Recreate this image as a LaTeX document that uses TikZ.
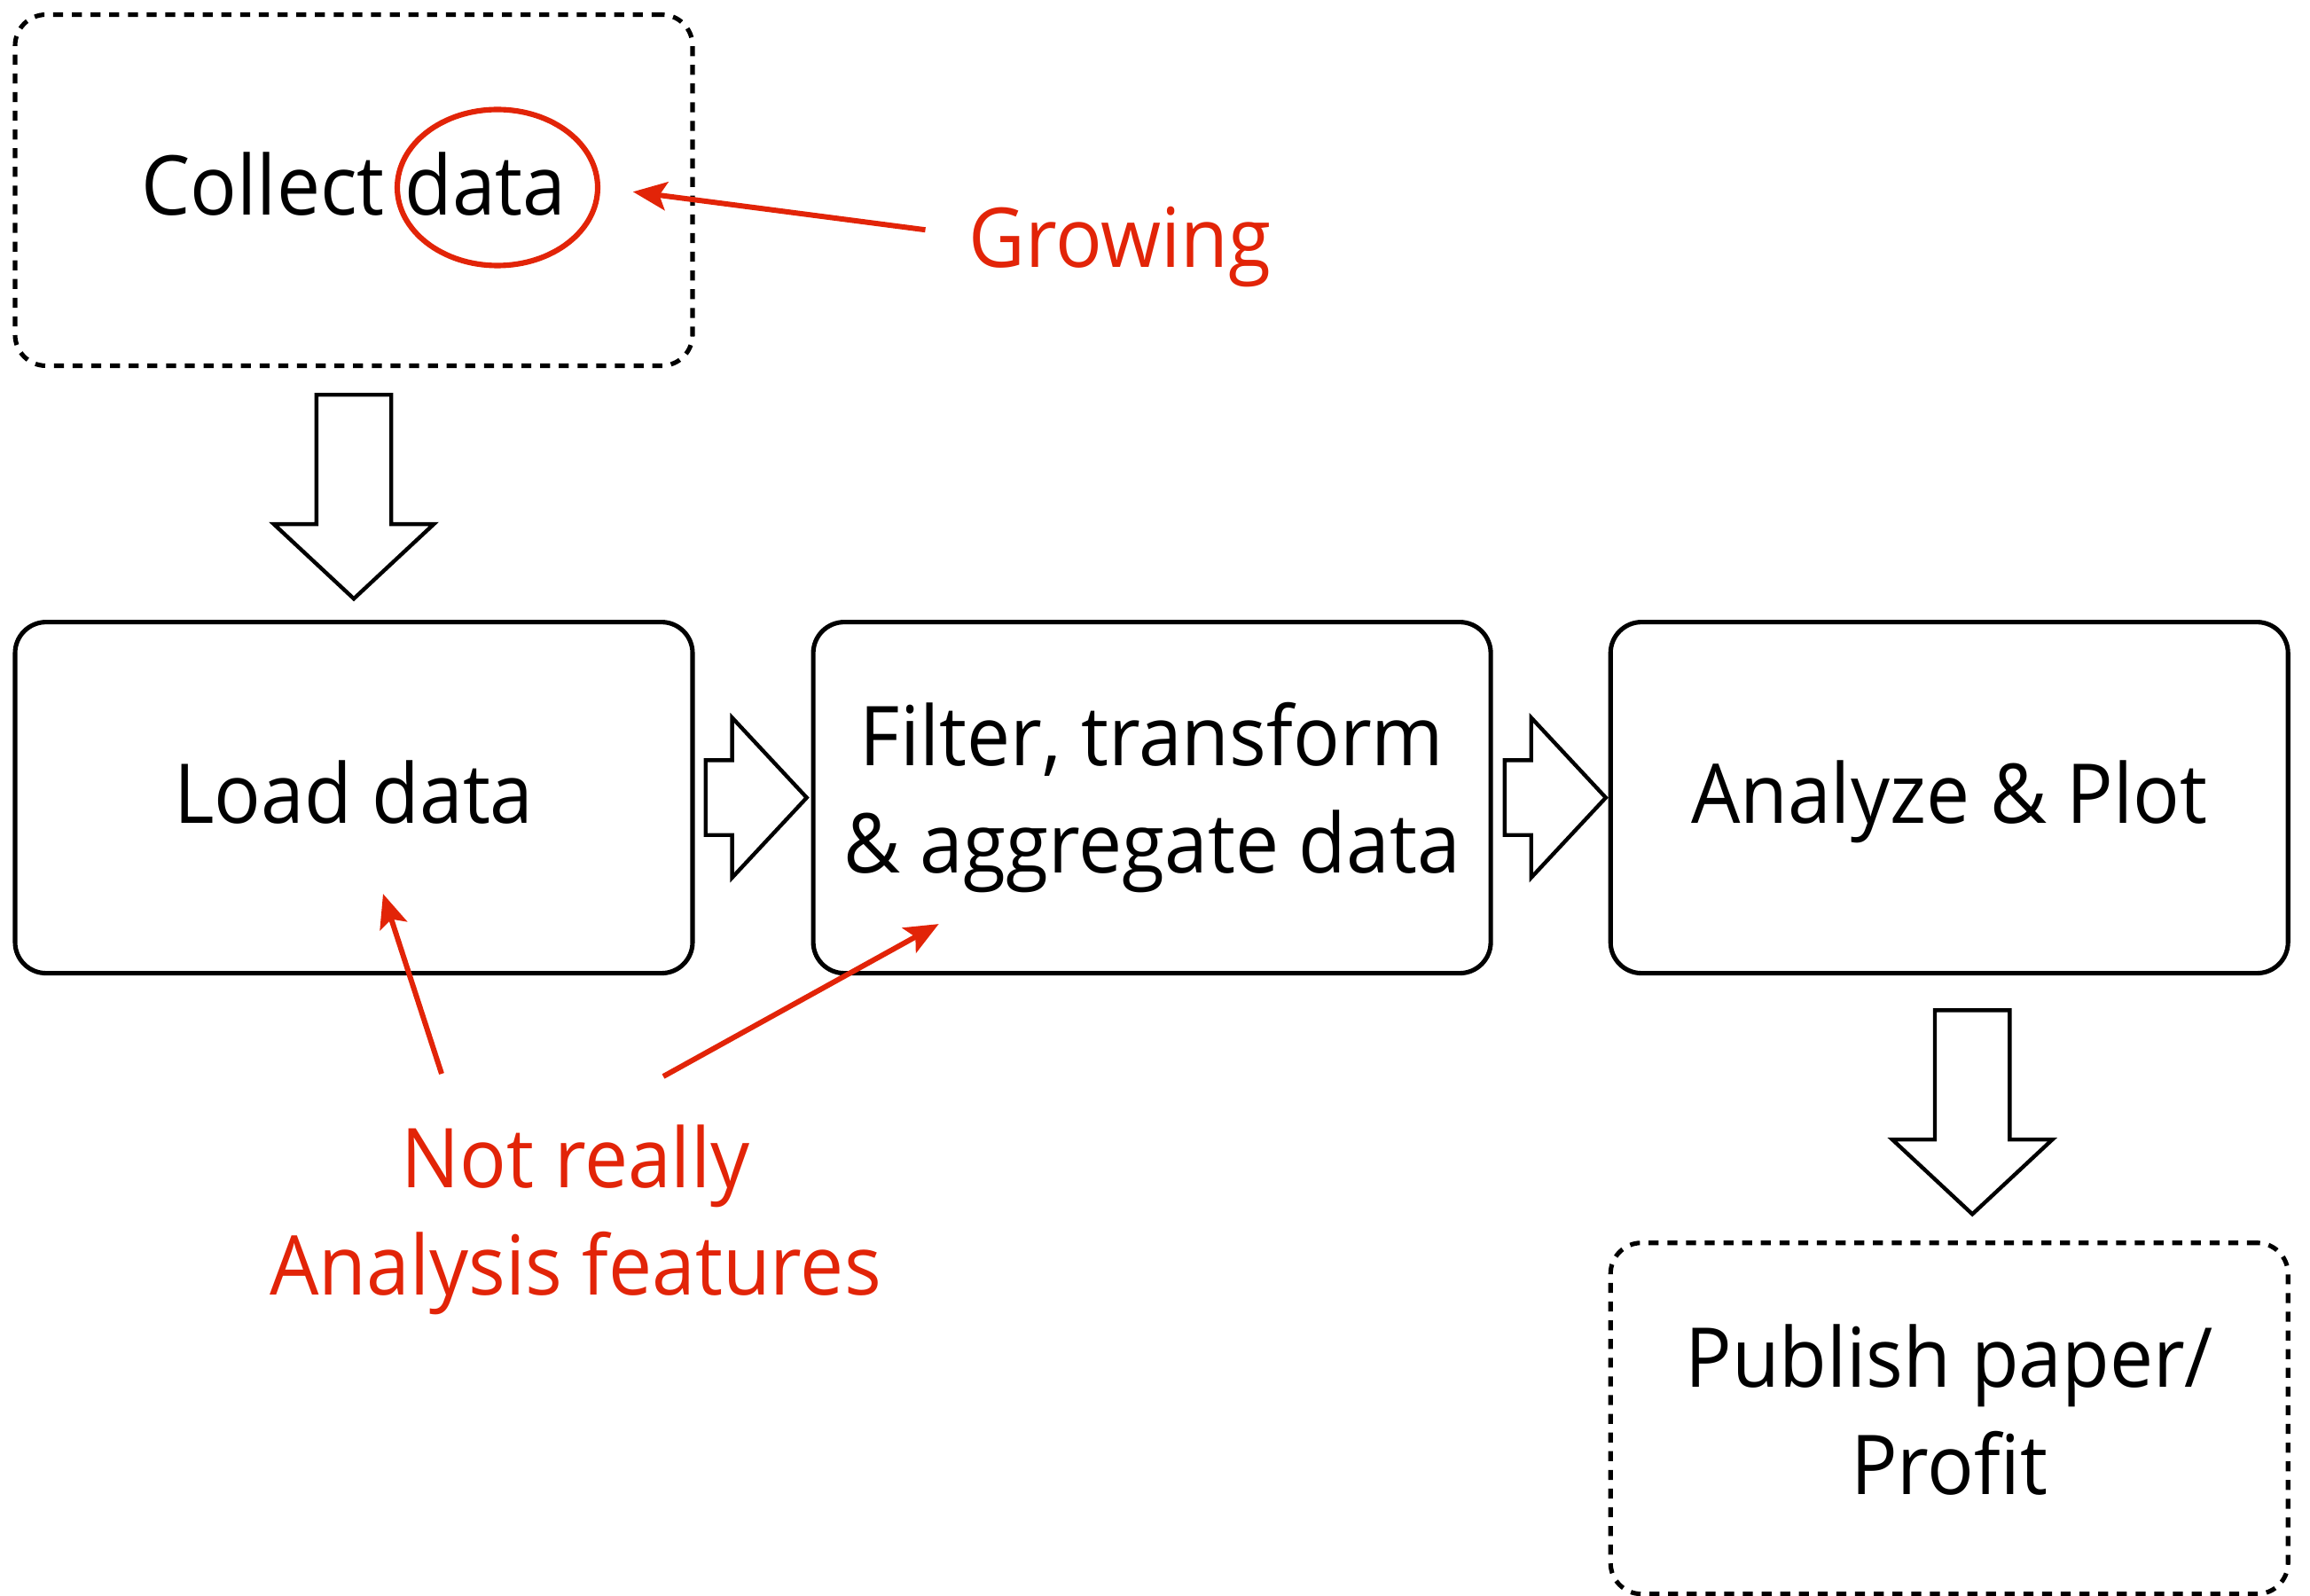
\documentclass[tikz,border=0pt]{standalone}
\usepackage{fontspec}
\setmainfont[FakeStretch=0.94]{Open Sans}
\usetikzlibrary{shapes,arrows.meta,positioning,calc}
\usepackage{xcolor}
\definecolor{notered}{RGB}{226,36,8}

\begin{document}
\begin{tikzpicture}[node distance=1.31cm, font=\fontsize{26.5}{34.5}\selectfont]
    \tikzstyle{block} = [rectangle, draw, line width=1.45pt, rounded corners=0.35cm,
               minimum width=7.64cm, minimum height=3.96cm]
    \tikzstyle{oneline} = [text height=21pt, text depth=4.8pt]
    \tikzstyle{dashblock} = [block, dash pattern=on 3.2pt off 2.8pt]
    \tikzstyle{fat} = [single arrow, draw, line width=1.25pt, inner xsep=0pt,
               inner ysep=0.4cm, minimum height=2.3cm, anchor=tail,
               single arrow head extend=0.48cm, single arrow tip angle=94]
    \tikzstyle{note} = [text=notered, align=center]
    \tikzstyle{line} = [draw, notered, line width=1.7pt,
               -{Stealth[length=3.8mm, width=3.2mm, inset=0.8mm]}]

    \useasboundingbox (0,0) rectangle (26.05,-17.99);

    % Define boxes
    \node[dashblock, oneline] (collect) at (3.99,-2.145) {Collect data};
    \node[block, oneline, below=2.84cm of collect] (load) {Load data};
    \node[block, align=center, right=of load] (filter) {Filter, transform\\\& aggregate data};
    \node[block, oneline, right=1.30cm of filter] (analyze) {Analyze \& Plot};
    \node[dashblock, align=center, below=2.99cm of analyze] (publish)
      {Publish paper/\\Profit\rule[-0.2cm]{0pt}{0.2cm}};

    % Block arrows between the steps
    \node[fat, rotate=-90] (down1) at ([yshift=-0.28cm]collect.south) {};
    \node[fat, minimum height=1.14cm] (right1) at ([xshift=0.1cm]load.east) {};
    \node[fat, minimum height=1.14cm] (right2) at ([xshift=0.11cm]filter.east) {};
    \node[fat, rotate=-90] (down2) at ([xshift=0.26cm, yshift=-0.37cm]analyze.south) {};

    % Red remarks
    \node[ellipse, draw=notered, line width=1.75pt, minimum width=2.26cm,
      minimum height=1.76cm] (ring) at ([xshift=1.62cm, yshift=0.03cm]collect.center) {};
    \node[note] (grow) at (12.63,-2.79) {Growing};
    \draw[line, shorten <=0.37cm, shorten >=0.37cm]
      ([yshift=0.15cm]grow.west) -- (ring.east);

    \node[note] (notreally) at (6.49,-13.76) {Not really\\Analysis features};
    \draw[line] ([xshift=-1.51cm, yshift=1.65cm]notreally.center) --
      ([xshift=0.33cm, yshift=-1.085cm]load.center);
    \draw[line] ([xshift=0.99cm, yshift=1.62cm]notreally.center) --
      ([xshift=-2.405cm, yshift=-1.425cm]filter.center);

  \end{tikzpicture}
\end{document}
